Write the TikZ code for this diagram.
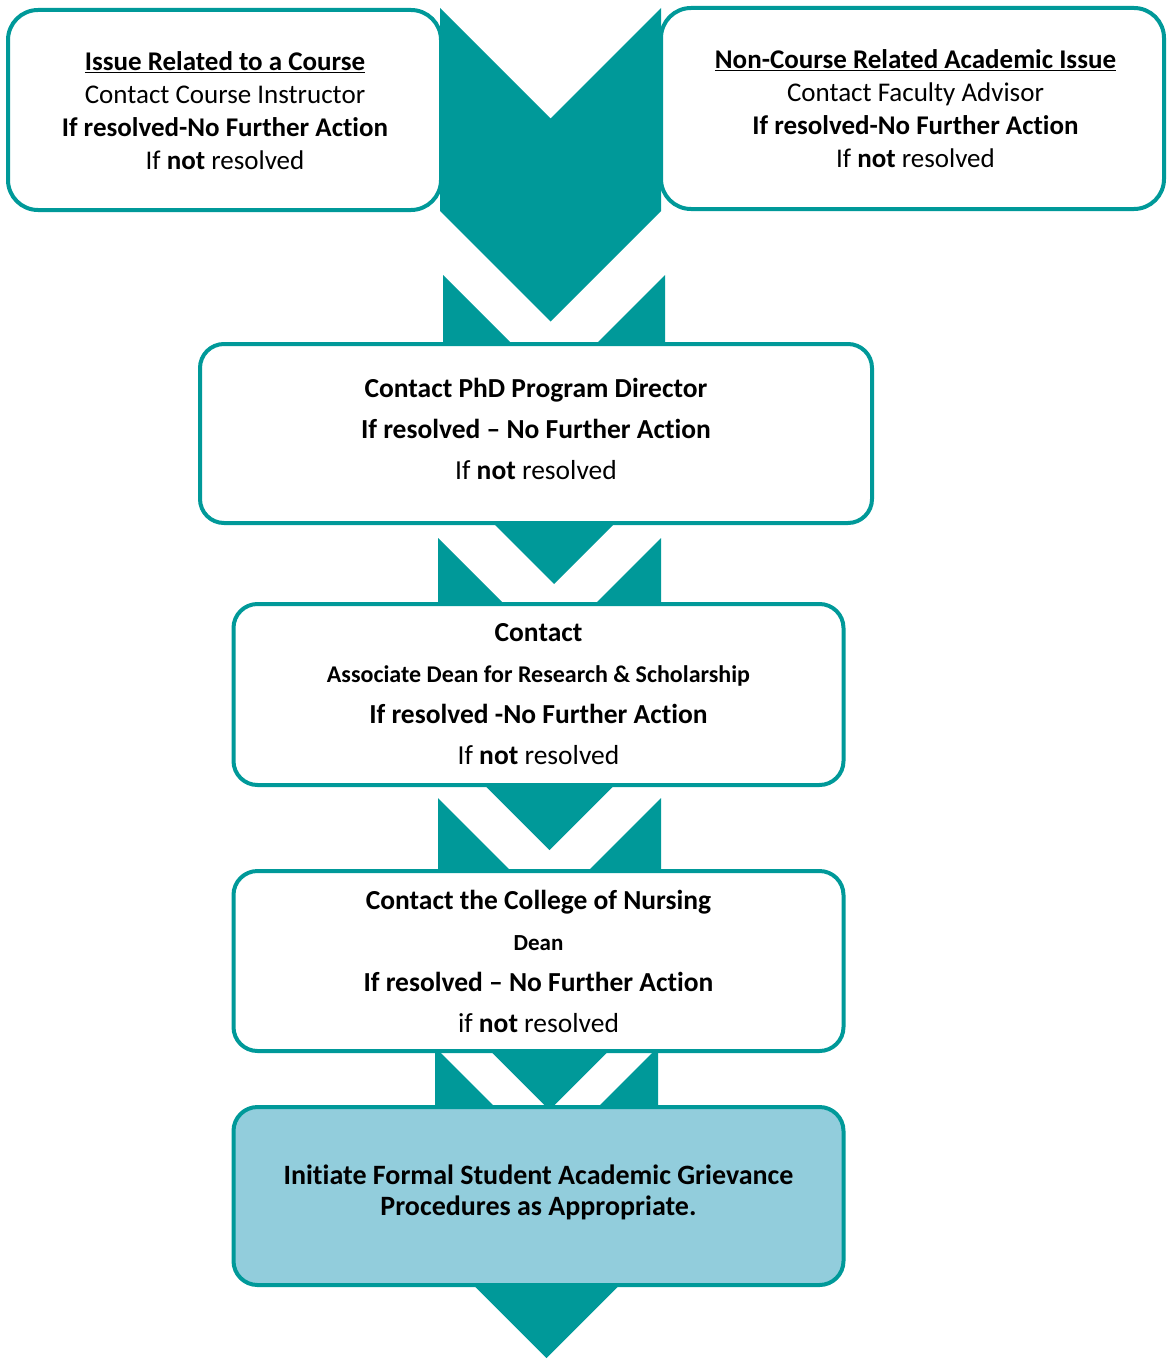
\documentclass[tikz,border=0pt]{standalone}
\usepackage{fontspec}
\setmainfont{Carlito}[Ligatures=NoCommon]
\definecolor{teal1}{HTML}{009999}
\definecolor{lblue}{HTML}{92CDDC}
\begin{document}
\begin{tikzpicture}[x=1pt,y=-1pt,
  chev/.style={fill=teal1,draw=none},
  box/.style={draw=teal1,line width=4pt,fill=white,rounded corners=24pt,inner sep=0pt},
  topbox/.style={box,rounded corners=30pt},
  txt/.style={inner sep=0pt,align=center,font=\fontsize{27.5}{41}\selectfont},
  toptxt/.style={txt,font=\fontsize{27}{33}\selectfont}]
\useasboundingbox (0,0) rectangle (1167,1359);
% top boxes
\node[topbox,minimum width=433pt,minimum height=200pt] (b1) at (224.5,110) {};
\node[toptxt] (t1) at (225,111)
  {\textbf{\underline{Issue Related to a Course}}\\Contact Course Instructor\\
   \textbf{If resolved-No Further Action}\\If \textbf{not} resolved};
\node[topbox,minimum width=503pt,minimum height=201pt] (b2) at (912.5,108.5) {};
\node[toptxt] (t2) at (915.5,109)
  {\textbf{\underline{Non-Course Related Academic Issue}}\\Contact Faculty Advisor\\
   \textbf{If resolved-No Further Action}\\If \textbf{not} resolved};
% chevrons
\fill[chev] (440,8) -- (550.5,118.5) -- (661,8) -- (661,211) -- (550.5,321.5) -- (440,211) -- cycle;
\fill[chev] (443,275) -- (554,386) -- (665,275) -- (665,473) -- (554,584) -- (443,473) -- cycle;
\fill[chev] (438,538) -- (549.5,649.5) -- (661,538) -- (661,738.5) -- (549.5,850) -- (438,738.5) -- cycle;
\fill[chev] (438,798) -- (549.5,909.5) -- (661,798) -- (661,998.5) -- (549.5,1110) -- (438,998.5) -- cycle;
\fill[chev] (435,1047) -- (546.5,1158.5) -- (658,1047) -- (658,1246.5) -- (546.5,1358) -- (435,1246.5) -- cycle;
% lower boxes
\node[box,minimum width=672pt,minimum height=179pt] (b3) at (536,433.5) {};
\node[txt] (t3) at (536,428.5)
  {\textbf{Contact PhD Program Director}\\\textbf{If resolved -- No Further Action}\\If \textbf{not} resolved};
\node[box,minimum width=610pt,minimum height=181pt] (b4) at (538.5,694.5) {};
\node[txt] (t4) at (538.5,694.5)
  {\textbf{Contact}\\{\fontsize{24}{41}\selectfont\textbf{Associate Dean for Research \& Scholarship}}\\
   \textbf{If resolved -No Further Action}\\If \textbf{not} resolved};
\node[box,minimum width=610pt,minimum height=180pt] (b5) at (538.5,961) {};
\node[txt] (t5) at (538.5,961)
  {\textbf{Contact the College of Nursing}\\{\fontsize{23}{41}\selectfont\textbf{Dean}}\\
   \textbf{If resolved -- No Further Action}\\if \textbf{not} resolved};
\node[box,fill=lblue,minimum width=610pt,minimum height=178pt] (b6) at (538.5,1196) {};
\node[txt,font=\fontsize{28}{31}\selectfont] (t6) at (538.5,1192)
  {\textbf{Initiate Formal Student Academic Grievance}\\\textbf{Procedures as Appropriate.}};
\end{tikzpicture}
\end{document}
